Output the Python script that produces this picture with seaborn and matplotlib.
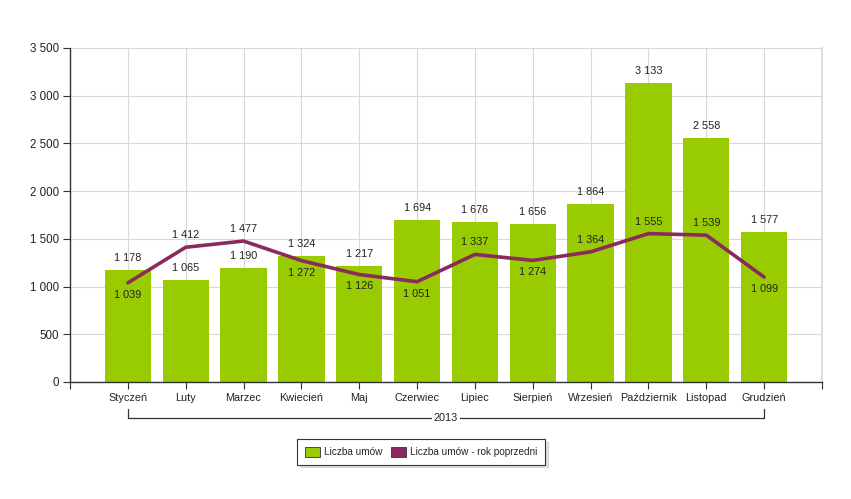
import matplotlib
matplotlib.use("Agg")
import matplotlib.pyplot as plt
from matplotlib.patches import Patch
from matplotlib import font_manager
import seaborn as sns
import numpy as np
import pandas as pd

months = ["Styczeń", "Luty", "Marzec", "Kwiecień", "Maj", "Czerwiec", "Lipiec",
          "Sierpień", "Wrzesień", "Październik", "Listopad", "Grudzień"]
current = [1178, 1065, 1190, 1324, 1217, 1694, 1676, 1656, 1864, 3133, 2558, 1577]
previous = [1039, 1412, 1477, 1272, 1126, 1051, 1337, 1274, 1364, 1555, 1539, 1099]
year_label = "2013"
yticks = [0, 500, 1000, 1500, 2000, 2500, 3000, 3500]
series_names = ["Liczba umów", "Liczba umów - rok poprzedni"]

# label placement for line values (style): +1 above, -1 below
prev_label_side = [-1, 1, 1, -1, -1, -1, 1, -1, 1, 1, 1, -1]

sns.set_theme(style="white")
avail = {f.name for f in font_manager.fontManager.ttflist}
fam = [f for f in ["Liberation Sans Narrow", "Liberation Sans", "DejaVu Sans"] if f in avail]
plt.rcParams["font.family"] = fam

BAR = "#99cc00"
LINE = "#8b2a5c"

fig = plt.figure(figsize=(8.51, 4.99), dpi=100)
ax = fig.add_axes([70/851, 1-382/499, (822-70)/851, (382-48)/499])

df = pd.DataFrame({"month": months, "value": current})
sns.barplot(data=df, x="month", y="value", color=BAR, width=0.8, saturation=1,
            ax=ax, zorder=2, edgecolor="none")
xs = np.arange(len(months))
sns.lineplot(x=xs, y=previous, color=LINE, linewidth=2.6, ax=ax, zorder=3,
             sort=False)

ax.set_xlim(-1, len(months))
ax.set_ylim(0, 3500)
ax.set_yticks(yticks)
ax.set_yticklabels([f"{v:,}".replace(",", " ") for v in yticks], fontsize=8.3)
ax.set_xticks(list(range(-1, len(months) + 1)))
ax.set_xticklabels([""] + months + [""], fontsize=7.8)
ax.set_xlabel("")
ax.set_ylabel("")

ax.grid(True, color="#d9d9d9", linewidth=0.8, zorder=0)
ax.set_axisbelow(True)
ax.spines["top"].set_visible(False)
ax.spines["right"].set_color("#d9d9d9")
ax.spines["left"].set_color("#333333")
ax.spines["bottom"].set_color("#333333")
ax.spines["left"].set_linewidth(1)
ax.spines["bottom"].set_linewidth(1)
ax.tick_params(axis="both", direction="out", length=5, width=0.8, color="#333333",
               labelcolor="#222222", bottom=True, left=True, pad=3)

def fmt(v):
    return f"{v:,}".replace(",", " ")

for i, v in enumerate(current):
    ax.annotate(fmt(v), (i, v), xytext=(0, 5), textcoords="offset points",
                ha="center", va="bottom", fontsize=7.8, color="#222222", zorder=5)
for i, v in enumerate(previous):
    side = prev_label_side[i]
    ax.annotate(fmt(v), (i, v), xytext=(0, 5 * side), textcoords="offset points",
                ha="center", va="bottom" if side > 0 else "top", fontsize=7.8,
                color="#222222", zorder=5)

# year bracket below month labels
trans = ax.get_xaxis_transform()
yb = -0.107
ax.plot([0, 0, len(months) - 1, len(months) - 1], [yb + 0.025, yb, yb, yb + 0.025],
        transform=trans, color="#333333", linewidth=0.9, clip_on=False)
ax.text((len(months) - 1) / 2, yb, year_label, transform=trans, ha="center",
        va="center", fontsize=7.8, color="#222222",
        bbox=dict(facecolor="white", edgecolor="none", pad=1.0))

handles = [Patch(facecolor=BAR, edgecolor="#333333", linewidth=0.6),
           Patch(facecolor=LINE, edgecolor="#333333", linewidth=0.6)]
leg = fig.legend(handles, series_names, loc="center", bbox_to_anchor=(421/851, 1-452/499),
                 ncol=2, fontsize=7.2, frameon=True, fancybox=False, handlelength=1.5,
                 handleheight=1.1, columnspacing=0.9, handletextpad=0.4,
                 borderpad=0.75,
                 shadow=dict(color="#bbbbbb", alpha=0.45, ox=2, oy=-2))
leg.get_frame().set_edgecolor("#333333")
leg.get_frame().set_linewidth(0.8)

fig.savefig("out.png", dpi=100)
